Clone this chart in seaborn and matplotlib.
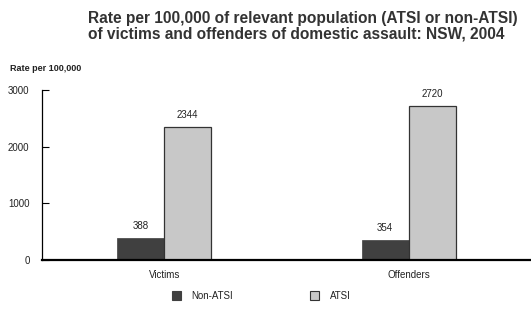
import pandas as pd
import matplotlib
matplotlib.use('Agg')
import matplotlib.pyplot as plt
import seaborn as sns

# Chart values
categories = ['Victims', 'Offenders']
groups = ['Non-ATSI', 'ATSI']
non_atsi = [388, 354]
atsi = [2344, 2720]

df = pd.DataFrame({
    'category': categories * 2,
    'group': [groups[0]] * len(categories) + [groups[1]] * len(categories),
    'rate': non_atsi + atsi,
})

sns.set_theme(style='white')
plt.rcParams['font.family'] = ['Liberation Sans', 'DejaVu Sans']

fig = plt.figure(figsize=(5.31, 3.18), dpi=100)
ax = fig.add_axes([0.0791, 0.1824, 0.9209, 0.5346])

sns.barplot(
    data=df, x='category', y='rate', hue='group',
    palette={'Non-ATSI': '#404040', 'ATSI': '#c8c8c8'},
    width=0.385, ax=ax, saturation=1, legend=True,
)

# outline the light bars
for patch in ax.containers[1]:
    patch.set_edgecolor('#333333')
    patch.set_linewidth(0.9)
for patch in ax.containers[0]:
    patch.set_edgecolor('#404040')
    patch.set_linewidth(0.5)

for cont in ax.containers:
    ax.bar_label(cont, fmt='%d', padding=5, fontsize=7, color='#222222')

ax.set_xlim(-0.5, 1.5)
ax.set_ylim(0, 3000)
ax.set_yticks([0, 1000, 2000, 3000])
ax.set_xlabel('')
ax.set_ylabel('')
ax.tick_params(axis='y', direction='in', length=5, width=0.8, pad=9,
               labelsize=7, left=True, colors='black')
ax.tick_params(axis='x', length=0, pad=7, labelsize=7)
for lbl in ax.get_yticklabels() + ax.get_xticklabels():
    lbl.set_color('#222222')

sns.despine(ax=ax, top=True, right=True)
ax.spines['left'].set_linewidth(0.9)
ax.spines['left'].set_color('black')
ax.spines['bottom'].set_linewidth(1.6)
ax.spines['bottom'].set_color('black')

leg = ax.legend(loc='center', bbox_to_anchor=(0.448, -0.21), ncol=2, frameon=False,
                fontsize=7, handlelength=0.95, handleheight=0.95,
                columnspacing=7.9, handletextpad=1.1)
for t in leg.get_texts():
    t.set_color('#222222')
leg.legend_handles[0].set_edgecolor('#404040')
leg.legend_handles[0].set_linewidth(0.8)
leg.legend_handles[1].set_edgecolor('#333333')
leg.legend_handles[1].set_linewidth(0.8)

fig.text(0.166, 0.965, 'Rate per 100,000 of relevant population (ATSI or non-ATSI)\n'
         'of victims and offenders of domestic assault: NSW, 2004',
         ha='left', va='top', fontsize=11.2, fontweight='bold', color='#333333',
         linespacing=1.0)
fig.text(0.019, 0.786, 'Rate per 100,000', ha='left', va='center',
         fontsize=6.5, fontweight='bold', color='#222222')

fig.savefig('out.png', dpi=100)
